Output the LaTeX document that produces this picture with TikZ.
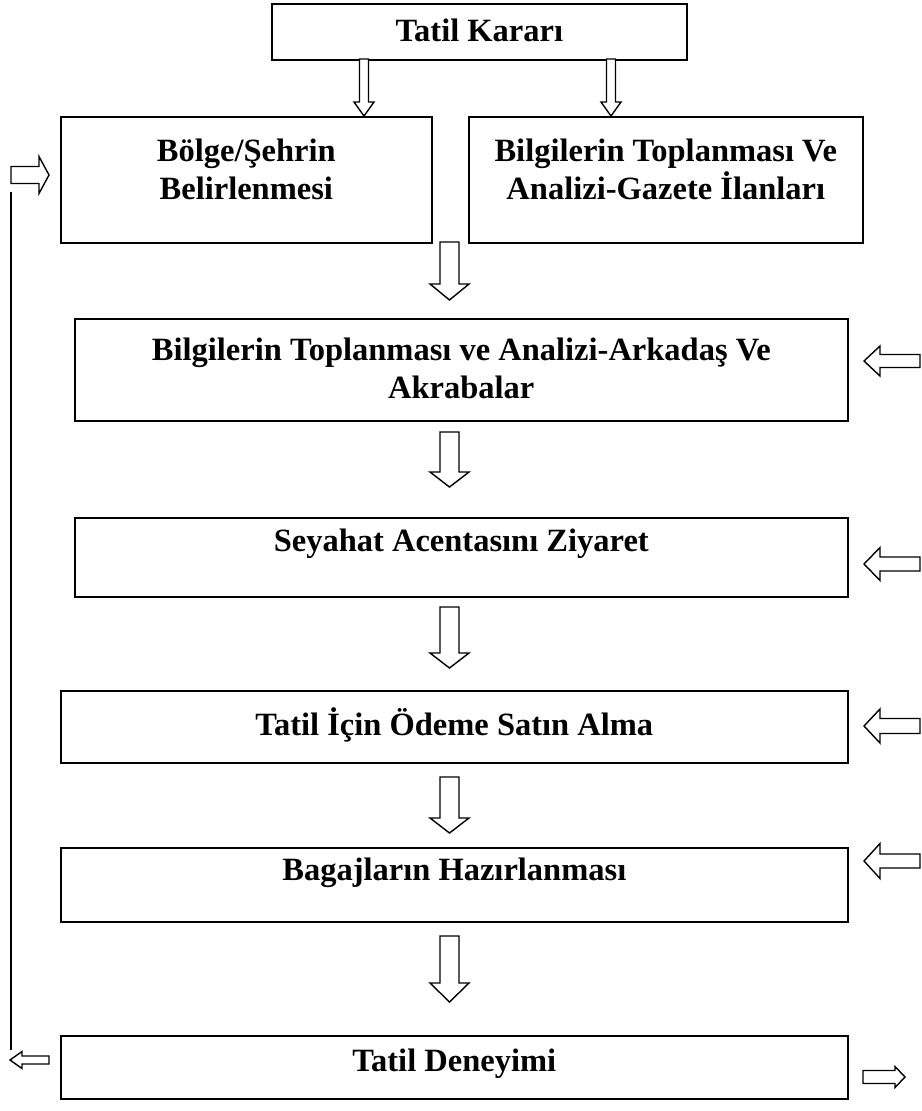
\documentclass[tikz,border=0pt]{standalone}
\usepackage{fontspec}
\setmainfont{Liberation Serif}
\begin{document}
\begin{tikzpicture}[x=1pt,y=-1pt,
  box/.style={draw=black, line width=1.6pt, inner sep=0pt, anchor=north west},
  lbl/.style={inner sep=0pt, align=center, font=\bfseries\fontsize{32.5}{38}\selectfont},
  blockarrow/.style={draw=black, line width=1.4pt, fill=white, line join=miter}]
\useasboundingbox (0,0) rectangle (921,1111);

% hollow block arrows: x, y of tail, y where head starts, y of tip, half shaft, half head
\newcommand\dnblock[6]{%
  \draw[blockarrow] (#1-#5,#2) -- (#1-#5,#3) -- (#1-#6,#3) -- (#1,#4)
    -- (#1+#6,#3) -- (#1+#5,#3) -- (#1+#5,#2) -- cycle;}
% horizontal: x of tail, x where head starts, x of tip, y, half shaft, half head
\newcommand\hzblock[6]{%
  \draw[blockarrow] (#1,#4-#5) -- (#2,#4-#5) -- (#2,#4-#6) -- (#3,#4)
    -- (#2,#4+#6) -- (#2,#4+#5) -- (#1,#4+#5) -- cycle;}

% process boxes
\node[box, minimum width=415pt, minimum height=56pt] (karar) at (271,3) {};
\node[box, minimum width=371pt, minimum height=126pt] (bolge) at (60,116) {};
\node[box, minimum width=394pt, minimum height=126pt] (gazete) at (468,116) {};
\node[box, minimum width=773pt, minimum height=102pt] (arkadas) at (74,318) {};
\node[box, minimum width=773pt, minimum height=79pt] (acenta) at (74,517) {};
\node[box, minimum width=787pt, minimum height=72pt] (odeme) at (60,690) {};
\node[box, minimum width=787pt, minimum height=74pt] (bagaj) at (60,847) {};
\node[box, minimum width=787pt, minimum height=63pt] (deneyim) at (60,1035) {};

% box texts
\node[lbl] (karar-t) at ([yshift=1pt]karar.center) {Tatil Kararı};
\node[lbl] (bolge-t) at ([yshift=10pt]bolge.center) {Bölge/Şehrin\\Belirlenmesi};
\node[lbl] (gazete-t) at ([yshift=10pt]gazete.center)
  {Bilgilerin Toplanması Ve\\Analizi-Gazete İlanları};
\node[lbl] (arkadas-t) at ([yshift=1pt]arkadas.center)
  {Bilgilerin Toplanması ve Analizi-Arkadaş Ve\\Akrabalar};
\node[lbl] (acenta-t) at ([yshift=14pt]acenta.center) {Seyahat Acentasını Ziyaret};
\node[lbl] (odeme-t) at ([yshift=2pt]odeme.center) {Tatil İçin Ödeme Satın Alma};
\node[lbl] (bagaj-t) at ([yshift=12pt]bagaj.center) {Bagajların Hazırlanması};
\node[lbl] (deneyim-t) at ([yshift=4pt]deneyim.center) {Tatil Deneyimi};

% arrows from the decision to the two first steps
\dnblock{364}{59}{102}{116}{4.5}{10}
\dnblock{611}{59}{102}{116}{4.5}{10}

% main flow
\dnblock{449.5}{242}{284}{300}{9.5}{19.5}
\dnblock{449.5}{432}{472}{487}{9.5}{19.5}
\dnblock{449.5}{607}{653}{668}{9.5}{19.5}
\dnblock{449.5}{777}{818}{833}{9.5}{19.5}
\dnblock{449.5}{936}{983}{1002}{9.5}{19.5}

% inputs from the right
\hzblock{920}{880}{864}{361}{6.5}{15}
\hzblock{920}{880}{864}{564}{7}{16.5}
\hzblock{920}{880}{864}{726}{7.5}{17}
\hzblock{920}{880}{864}{861}{7}{17.5}

% feedback loop on the left
\coordinate (loopTop) at (11,192);
\coordinate (loopBot) at (11,1050);
\draw[line width=1.6pt] (loopBot) -- (loopTop);
\hzblock{11}{39}{49}{175}{8.5}{18.5}
\hzblock{49}{22}{10}{1060}{4}{8.5}

% output on the right
\hzblock{863}{895}{905}{1077}{6.5}{10.5}
\end{tikzpicture}
\end{document}
